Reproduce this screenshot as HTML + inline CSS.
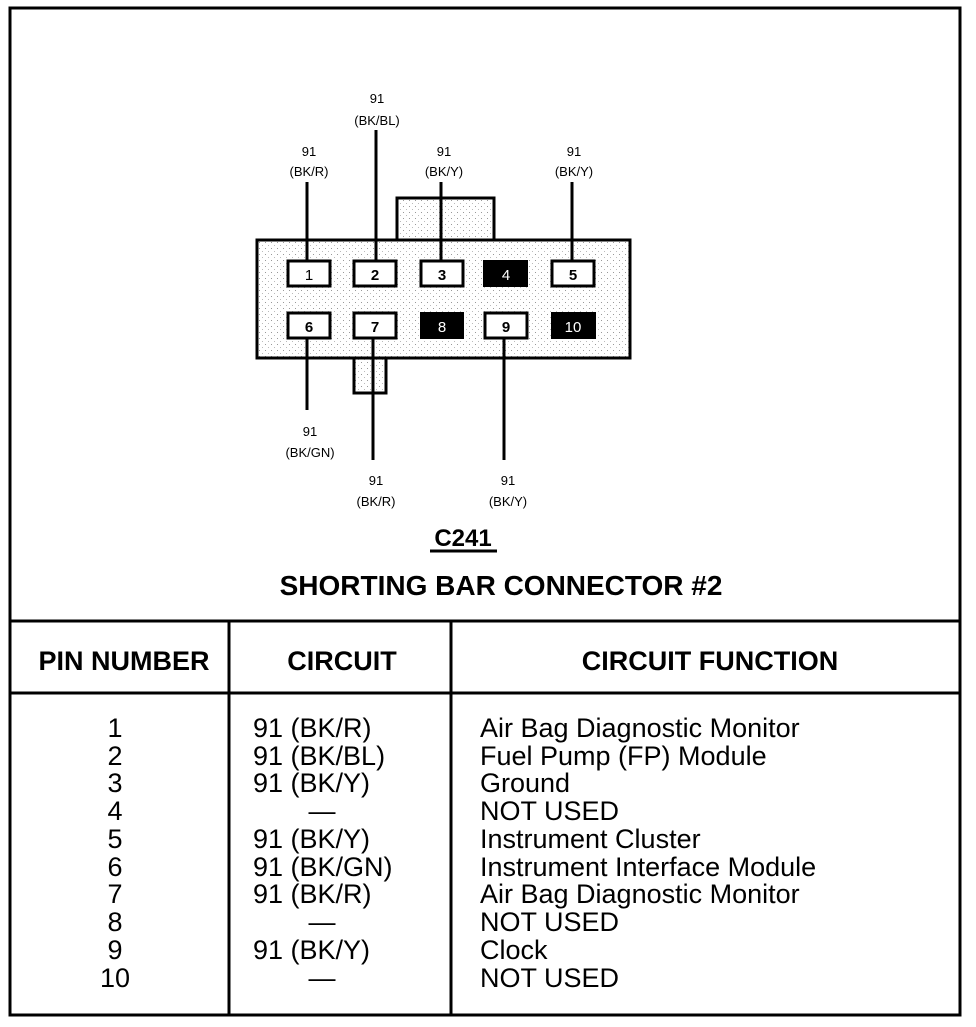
<!DOCTYPE html>
<html><head><style>
body{margin:0;background:#fff;}
svg text{font-family:"Liberation Sans",Arial,sans-serif;fill:#000;}
</style></head><body>
<svg width="976" height="1022" viewBox="0 0 976 1022" xmlns="http://www.w3.org/2000/svg">
<defs><pattern id="dots" width="6" height="6" patternUnits="userSpaceOnUse"><rect width="6" height="6" fill="#fff"/><rect x="1" y="2" width="1" height="1" fill="#999"/><rect x="4" y="5" width="1" height="1" fill="#bbb"/></pattern></defs>
<g stroke="#000" fill="none">
<rect x="10" y="8" width="950" height="1007" stroke-width="3"/>
<line x1="10" y1="621" x2="960" y2="621" stroke-width="3"/>
<line x1="10" y1="693" x2="960" y2="693" stroke-width="3"/>
<line x1="229" y1="621" x2="229" y2="1015" stroke-width="3"/>
<line x1="451" y1="621" x2="451" y2="1015" stroke-width="3"/>
<rect x="397" y="198" width="97" height="42" stroke-width="3" fill="url(#dots)"/>
<rect x="354" y="358" width="32" height="35" stroke-width="3" fill="url(#dots)"/>
<rect x="257" y="240" width="373" height="118" stroke-width="3" fill="url(#dots)"/>
<g stroke-width="3" fill="#fff">
<rect x="288" y="261" width="42" height="25"/><rect x="354" y="261" width="42" height="25"/><rect x="421" y="261" width="42" height="25"/><rect x="552" y="261" width="42" height="25"/>
<rect x="288" y="313" width="42" height="25"/><rect x="354" y="313" width="42" height="25"/><rect x="485" y="313" width="42" height="25"/>
</g>
<g fill="#000" stroke="none">
<rect x="483" y="260" width="45" height="27"/><rect x="420" y="312" width="44" height="27"/><rect x="551" y="312" width="45" height="27"/>
</g>
<g stroke-width="3">
<line x1="307" y1="182" x2="307" y2="261"/><line x1="376" y1="130" x2="376" y2="261"/><line x1="441" y1="182" x2="441" y2="261"/><line x1="572" y1="182" x2="572" y2="261"/>
<line x1="307" y1="338" x2="307" y2="410"/><line x1="373" y1="338" x2="373" y2="460"/><line x1="504" y1="338" x2="504" y2="460"/>
<line x1="430" y1="551" x2="497" y2="551"/>
</g>
</g>
<g font-size="15" text-anchor="middle">
<text x="309" y="280">1</text><text x="375" y="280" font-weight="bold">2</text><text x="442" y="280" font-weight="bold">3</text><text x="506" y="280" style="fill:#fff">4</text><text x="573" y="280" font-weight="bold">5</text>
<text x="309" y="332" font-weight="bold">6</text><text x="375" y="332" font-weight="bold">7</text><text x="442" y="332" style="fill:#fff">8</text><text x="506" y="332" font-weight="bold">9</text><text x="573" y="332" style="fill:#fff">10</text>
</g>
<g font-size="13" text-anchor="middle">
<text x="377" y="103">91</text><text x="377" y="125">(BK/BL)</text>
<text x="309" y="156">91</text><text x="309" y="176">(BK/R)</text>
<text x="444" y="156">91</text><text x="444" y="176">(BK/Y)</text>
<text x="574" y="156">91</text><text x="574" y="176">(BK/Y)</text>
<text x="310" y="436">91</text><text x="310" y="457">(BK/GN)</text>
<text x="376" y="485">91</text><text x="376" y="506">(BK/R)</text>
<text x="508" y="485">91</text><text x="508" y="506">(BK/Y)</text>
</g>
<text x="463" y="546" font-size="24" font-weight="bold" text-anchor="middle">C241</text>
<text x="501" y="595" font-size="28" font-weight="bold" text-anchor="middle">SHORTING BAR CONNECTOR #2</text>
<g font-size="27" font-weight="bold" text-anchor="middle">
<text x="124" y="670">PIN NUMBER</text><text x="342" y="670">CIRCUIT</text><text x="710" y="670">CIRCUIT FUNCTION</text>
</g>
<g font-size="27">
<g text-anchor="middle">
<text x="115" y="737">1</text><text x="115" y="765">2</text><text x="115" y="792">3</text><text x="115" y="820">4</text><text x="115" y="848">5</text><text x="115" y="876">6</text><text x="115" y="903">7</text><text x="115" y="931">8</text><text x="115" y="959">9</text><text x="115" y="987">10</text>
<text x="322" y="820">—</text><text x="322" y="931">—</text><text x="322" y="987">—</text>
</g>
<text x="253" y="737">91 (BK/R)</text><text x="253" y="765">91 (BK/BL)</text><text x="253" y="792">91 (BK/Y)</text><text x="253" y="848">91 (BK/Y)</text><text x="253" y="876">91 (BK/GN)</text><text x="253" y="903">91 (BK/R)</text><text x="253" y="959">91 (BK/Y)</text>
<text x="480" y="737">Air Bag Diagnostic Monitor</text><text x="480" y="765">Fuel Pump (FP) Module</text><text x="480" y="792">Ground</text><text x="480" y="820">NOT USED</text><text x="480" y="848">Instrument Cluster</text><text x="480" y="876">Instrument Interface Module</text><text x="480" y="903">Air Bag Diagnostic Monitor</text><text x="480" y="931">NOT USED</text><text x="480" y="959">Clock</text><text x="480" y="987">NOT USED</text>
</g>
</svg>
</body></html>
